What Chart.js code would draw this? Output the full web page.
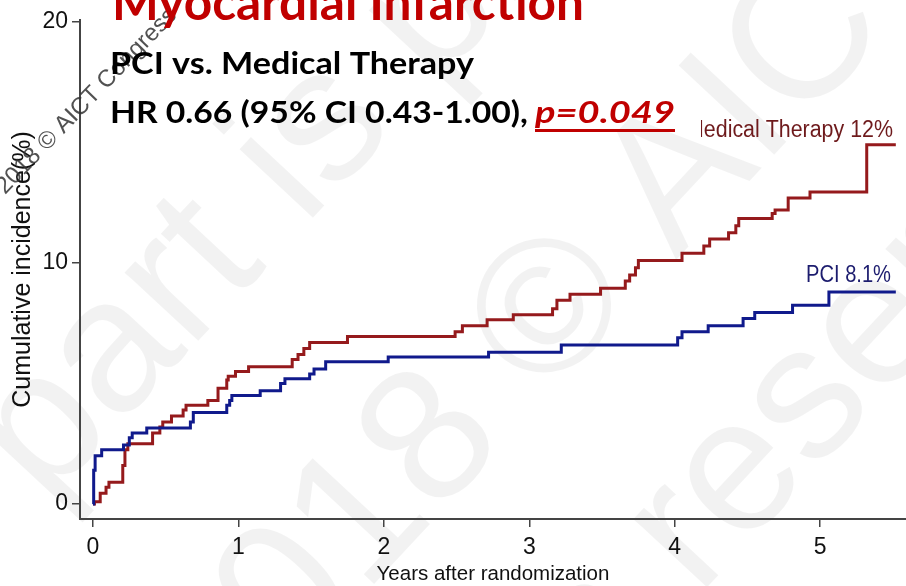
<!DOCTYPE html>
<html>
<head>
<meta charset="utf-8">
<script src="https://cdn.jsdelivr.net/npm/chart.js@4.4.1/dist/chart.umd.min.js"></script>
<style>
    html, body { margin: 0; padding: 0; background: #fff; overflow: hidden; }
    canvas { display: block; }
</style>
</head>
<body>
<canvas id="kmChart" width="906" height="586"></canvas>
<script>
// ---------- Data ----------
const xTickValues = [0, 1, 2, 3, 4, 5];
const yTickValues = [0, 10, 20];

const pciTimes  = [0, 0.005, 0.015, 0.06, 0.21, 0.25, 0.27, 0.37, 0.67, 0.69, 0.92, 0.94, 0.955, 1.15, 1.29, 1.32, 1.49, 1.52, 1.60, 2.03, 2.72, 3.22, 4.02, 4.05, 4.23, 4.47, 4.55, 4.81, 5.06, 5.52];
const pciValues = [0, 1.4, 2.0, 2.25, 2.45, 2.75, 2.95, 3.15, 3.4, 3.8, 4.1, 4.3, 4.5, 4.7, 5.0, 5.2, 5.4, 5.6, 5.9, 6.1, 6.3, 6.6, 6.9, 7.15, 7.4, 7.7, 7.95, 8.25, 8.8, 8.8];

const medTimes  = [0, 0.01, 0.05, 0.09, 0.11, 0.205, 0.22, 0.24, 0.41, 0.46, 0.48, 0.54, 0.62, 0.64, 0.79, 0.86, 0.92, 0.93, 0.98, 1.07, 1.37, 1.41, 1.45, 1.49, 1.75, 2.49, 2.54, 2.71, 2.89, 3.16, 3.19, 3.28, 3.49, 3.66, 3.69, 3.73, 3.75, 4.05, 4.2, 4.24, 4.37, 4.42, 4.44, 4.67, 4.69, 4.78, 4.93, 5.32, 5.52];
const medValues = [0, 0.1, 0.45, 0.7, 0.9, 1.6, 2.25, 2.5, 2.95, 3.2, 3.4, 3.65, 3.9, 4.1, 4.3, 4.8, 5.15, 5.3, 5.5, 5.7, 6.0, 6.2, 6.45, 6.7, 6.95, 7.15, 7.4, 7.65, 7.85, 8.1, 8.45, 8.7, 8.95, 9.25, 9.5, 9.8, 10.1, 10.4, 10.7, 11.0, 11.25, 11.55, 11.85, 12.05, 12.2, 12.7, 12.95, 14.9, 14.9];

const seriesLabels = ['PCI 8.1%', 'Medical Therapy 12%'];

// ---------- Fonts ----------
function hasFont(name) {
    const c = document.createElement('canvas').getContext('2d');
    const sample = 'Years after randomization';
    c.font = '40px monospace';
    const a = c.measureText(sample).width;
    c.font = `40px "${name}", monospace`;
    return c.measureText(sample).width !== a;
}
const narrowOk = hasFont('Liberation Sans Narrow');
const SANS = '"Liberation Sans", Arial, Helvetica, sans-serif';
const xTitleFont = narrowOk
    ? { family: '"Liberation Sans Narrow", ' + SANS, size: 25, lineHeight: 1 }
    : { family: SANS, size: 20.5, lineHeight: 1 };

const RED_LINE = '#951a1c';
const BLUE_LINE = '#101a8c';

// draw text squeezed / stretched horizontally to a target width
function fitText(ctx, text, x, y, width, font, color, align) {
    ctx.save();
    ctx.font = font;
    ctx.fillStyle = color;
    ctx.textAlign = align || 'left';
    ctx.textBaseline = 'alphabetic';
    const sx = width / ctx.measureText(text).width;
    ctx.translate(x, y);
    ctx.scale(sx, 1);
    ctx.fillText(text, 0, 0);
    ctx.restore();
}

// rotated text, positioned so that `anchor` prefix ends at (x, y)
function rotatedText(ctx, text, anchor, x, y, deg) {
    const a = deg * Math.PI / 180;
    const pre = ctx.measureText(anchor).width;
    ctx.save();
    ctx.translate(x - pre * Math.cos(a), y - pre * Math.sin(a));
    ctx.rotate(a);
    ctx.fillText(text, 0, 0);
    ctx.restore();
}

// ---------- Slide decorations (background, watermark, headings, curve labels) ----------
const slidePlugin = {
    id: 'slidePlugin',
    beforeDraw(chart) {
        const ctx = chart.ctx;
        ctx.save();
        ctx.fillStyle = '#fff';
        ctx.fillRect(0, 0, chart.width, chart.height);

        // pale copyright watermark
        ctx.fillStyle = 'rgba(0,0,0,0.05)';
        ctx.font = '190px ' + SANS;
        ctx.textBaseline = 'alphabetic';
        rotatedText(ctx, 'any part is protected', 'any ', 45, 505, -47);
        rotatedText(ctx, 'Copyright 2018 \u00A9 AICT Congress', 'Copyright ', 220, 749, -47);
        rotatedText(ctx, 'All rights reserved', 'All rights ', 698, 597, -47);
        ctx.restore();
    },
    afterDraw(chart) {
        const ctx = chart.ctx;
        ctx.save();

        // small dark watermark by the y axis
        ctx.fillStyle = 'rgba(50,50,50,0.85)';
        ctx.font = '24px ' + SANS;
        rotatedText(ctx, '2018 \u00A9 AICT Congress', '', 5, 195, -46);

        // headings
        const HEAD = '"Lato", "Open Sans", sans-serif';
        fitText(ctx, 'Myocardial Infarction', 112, 20, 472, `bold 50px ${HEAD}`, '#c00000');
        fitText(ctx, 'PCI vs. Medical Therapy', 110, 74, 364, `bold 30px ${HEAD}`, '#000');
        fitText(ctx, 'HR 0.66 (95% CI 0.43-1.00),', 110, 123, 418, `bold 30px ${HEAD}`, '#000');
        fitText(ctx, 'p=0.049', 535, 123, 140, `italic bold 30px ${HEAD}`, '#c00000');
        ctx.fillStyle = '#c00000';
        ctx.fillRect(535, 129, 140, 3);

        // curve labels
        const lblFont = '23.5px ' + SANS;
        ctx.save();
        ctx.beginPath();
        ctx.rect(701, 100, 205, 60);
        ctx.clip();
        fitText(ctx, seriesLabels[1], 893, 137, 207, lblFont, '#6e1a1c', 'right');
        ctx.restore();
        fitText(ctx, seriesLabels[0], 891, 282, 85, lblFont, '#1c1c6e', 'right');

        ctx.restore();
    }
};

// ---------- Chart ----------
const ctx = document.getElementById('kmChart').getContext('2d');

new Chart(ctx, {
    type: 'line',
    data: {
        datasets: [
            {
                label: seriesLabels[0],
                data: pciTimes.map((t, i) => ({ x: t, y: pciValues[i] })),
                borderColor: BLUE_LINE,
                borderWidth: 3,
                pointRadius: 0,
                stepped: true,
                fill: false
            },
            {
                label: seriesLabels[1],
                data: medTimes.map((t, i) => ({ x: t, y: medValues[i] })),
                borderColor: RED_LINE,
                borderWidth: 3,
                pointRadius: 0,
                stepped: true,
                fill: false
            }
        ]
    },
    options: {
        responsive: false,
        animation: false,
        devicePixelRatio: 1,
        layout: { padding: { top: 20, right: 0, bottom: 0, left: 0 } },
        plugins: {
            legend: { display: false },
            tooltip: { enabled: false }
        },
        scales: {
            x: {
                type: 'linear',
                min: -0.089,
                max: 5.59,
                afterBuildTicks: scale => { scale.ticks = xTickValues.map(v => ({ value: v })); },
                afterFit: scale => { scale.height = 67; },
                border: { color: '#444', width: 2 },
                grid: { drawOnChartArea: false, drawTicks: true, tickLength: 8, color: '#444', lineWidth: 1.5 },
                ticks: {
                    color: '#111',
                    padding: 7,
                    maxRotation: 0,
                    font: { family: SANS, size: 23 }
                },
                title: {
                    display: true,
                    text: 'Years after randomization',
                    color: '#111',
                    font: xTitleFont,
                    padding: { top: 0, bottom: 1.5 }
                }
            },
            y: {
                type: 'linear',
                min: -0.62,
                max: 20.08,
                afterBuildTicks: scale => { scale.ticks = yTickValues.map(v => ({ value: v })); },
                afterFit: scale => { scale.width = 80; },
                border: { color: '#444', width: 2 },
                grid: { drawOnChartArea: false, drawTicks: true, tickLength: 8, color: '#444', lineWidth: 1.5 },
                ticks: {
                    color: '#111',
                    padding: 4,
                    font: { family: SANS, size: 23 }
                },
                title: {
                    display: true,
                    text: 'Cumulative incidence(%)',
                    color: '#111',
                    font: { family: SANS, size: 25, lineHeight: 1 },
                    padding: { top: 11, bottom: 0 }
                }
            }
        }
    },
    plugins: [slidePlugin]
});
</script>
</body>
</html>
